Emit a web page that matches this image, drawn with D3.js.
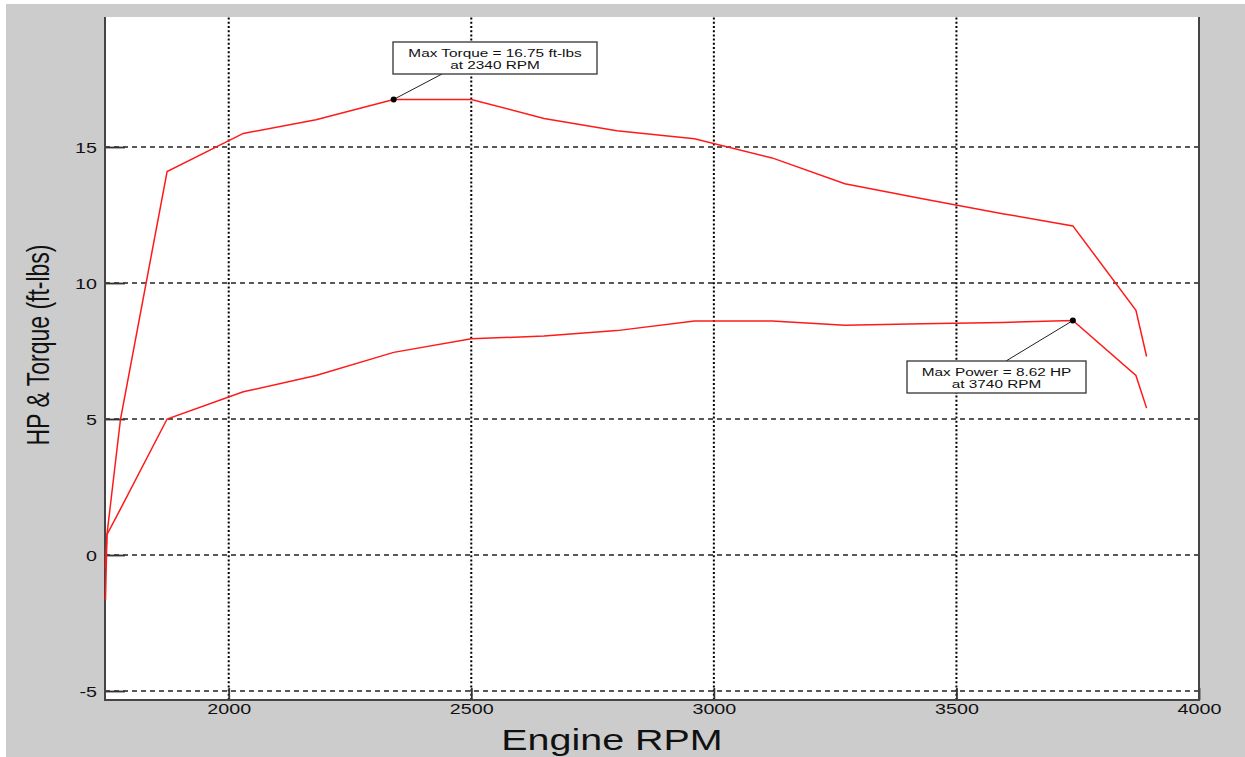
<!DOCTYPE html>
<html>
<head>
<meta charset="utf-8">
<script src="https://cdn.jsdelivr.net/npm/d3@7"></script>
<style>
  html, body { margin: 0; padding: 0; background: #ffffff; }
  svg { display: block; }
  text { font-family: "Liberation Sans", Arial, sans-serif; fill: #111; }
</style>
</head>
<body>
<script>
// Dyno run: engine speed vs. torque (ft-lbs) and power (HP)
const rpm    = [1746, 1749, 1777, 1873, 2030, 2180, 2340, 2500, 2650, 2800, 2960, 3120, 3270, 3430, 3595, 3740, 3870, 3892];
const torque = [-1.65, 0.75, 5.0, 14.1, 15.5, 16.0, 16.75, 16.75, 16.05, 15.6, 15.3, 14.6, 13.65, 13.1, 12.55, 12.1, 9.0, 7.3];
const power  = [-0.5, 0.75, 1.7, 5.0, 6.0, 6.6, 7.45, 7.95, 8.05, 8.25, 8.6, 8.6, 8.45, 8.5, 8.55, 8.62, 6.6, 5.4];

const xTicks = [2000, 2500, 3000, 3500, 4000];
const yTicks = [-5, 0, 5, 10, 15];

const maxTorque = { rpm: 2340, value: 16.75 };
const maxPower  = { rpm: 3740, value: 8.62 };

const W = 1245, H = 757;
const plot = { left: 105, right: 1199, top: 17, bottom: 700 };
const stretch = 1.36; // horizontal glyph stretch used for all labels
const fmt = d => String(d); // plain hyphen-minus for negatives

const svg = d3.select("body").append("svg").attr("width", W).attr("height", H);

// figure background
svg.append("rect").attr("x", 6).attr("y", 4).attr("width", W - 6).attr("height", H - 4).attr("fill", "#cccccc");
// axes background
svg.append("rect").attr("x", plot.left).attr("y", plot.top)
  .attr("width", plot.right - plot.left).attr("height", plot.bottom - plot.top).attr("fill", "#ffffff");

const x = d3.scaleLinear().domain([1745, 4000]).range([plot.left, plot.right]);
const y = d3.scaleLinear().domain([-5.33, 19.78]).range([plot.bottom, plot.top]);

// grid: dotted verticals, dashed horizontals
svg.append("g").selectAll("line").data(xTicks).join("line")
  .attr("x1", d => x(d)).attr("x2", d => x(d))
  .attr("y1", plot.bottom).attr("y2", plot.top)
  .attr("stroke", "#000").attr("stroke-width", 2).attr("stroke-dasharray", "2,2.2");
svg.append("g").selectAll("line").data(yTicks).join("line")
  .attr("x1", plot.left).attr("x2", plot.right)
  .attr("y1", d => y(d)).attr("y2", d => y(d))
  .attr("stroke", "#222").attr("stroke-width", 1.5).attr("stroke-dasharray", "5,4");

// axes with inward ticks
const gx = svg.append("g").attr("transform", `translate(0,${plot.bottom})`)
  .call(d3.axisBottom(x).tickValues(xTicks).tickSizeInner(-12).tickSizeOuter(0).tickPadding(0).tickFormat(fmt));
const gy = svg.append("g").attr("transform", `translate(${plot.left},0)`)
  .call(d3.axisLeft(y).tickValues(yTicks).tickSizeInner(-20).tickSizeOuter(0).tickPadding(0).tickFormat(fmt));

[gx, gy].forEach(g => {
  g.select(".domain").remove();
  g.selectAll(".tick line").attr("stroke", "#333").attr("stroke-width", 1.8);
  g.selectAll(".tick text").attr("font-family", "Liberation Sans, Arial, sans-serif")
    .attr("font-size", 14.5).attr("fill", "#111");
});
gx.selectAll(".tick text").attr("dy", null).attr("y", 14.5)
  .attr("transform", `scale(${stretch},1)`);
gy.selectAll(".tick text").attr("x", -8 / stretch).attr("dy", "0.36em")
  .attr("transform", `scale(${stretch},1)`);

// axes frame (left, bottom, right)
svg.append("path")
  .attr("d", `M${plot.left},${plot.top}V${plot.bottom}H${plot.right}V${plot.top}`)
  .attr("fill", "none").attr("stroke", "#444").attr("stroke-width", 2);

// curves
const line = d3.line().x(d => x(d[0])).y(d => y(d[1]));
const curves = [d3.zip(rpm, torque), d3.zip(rpm, power)];
svg.append("g").selectAll("path").data(curves).join("path")
  .attr("d", line).attr("fill", "none").attr("stroke", "#ff1a1a").attr("stroke-width", 1.5);

// stretched text helper
function label(px, py, str, size, anchor) {
  const g = svg.append("g").attr("transform", `translate(${px},${py}) scale(${stretch},1)`);
  return g.append("text").attr("text-anchor", anchor).attr("font-size", size).text(str);
}

// annotations
function annotate(pt, box, lines, leaderFrom) {
  const px = x(pt.rpm), py = y(pt.value);
  svg.append("line").attr("x1", leaderFrom[0]).attr("y1", leaderFrom[1]).attr("x2", px).attr("y2", py)
    .attr("stroke", "#222").attr("stroke-width", 1);
  svg.append("rect").attr("x", box.x).attr("y", box.y).attr("width", box.w).attr("height", box.h)
    .attr("fill", "#ffffff").attr("stroke", "#333").attr("stroke-width", 1.3);
  lines.forEach((t, i) => label(box.x + box.w / 2, box.y + 15 + i * 12, t, 11.3, "middle"));
  svg.append("circle").attr("cx", px).attr("cy", py).attr("r", 3).attr("fill", "#000");
}
annotate(maxTorque, { x: 393, y: 42, w: 204, h: 32 },
  [`Max Torque = ${maxTorque.value} ft-lbs`, `at ${maxTorque.rpm} RPM`], [442, 74]);
annotate(maxPower, { x: 907, y: 361, w: 179, h: 32 },
  [`Max Power = ${maxPower.value} HP`, `at ${maxPower.rpm} RPM`], [1006, 361]);

// axis titles
label(612, 750, "Engine RPM", 29, "middle");
svg.append("g").attr("transform", `translate(49,345) scale(${stretch},1) rotate(-90)`)
  .append("text").attr("text-anchor", "middle").attr("font-size", 23).text("HP & Torque (ft-lbs)");
</script>
</body>
</html>
